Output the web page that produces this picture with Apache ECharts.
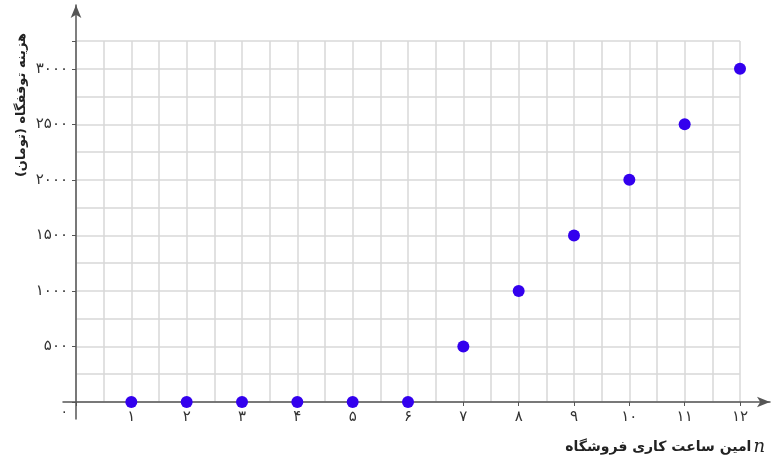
<!DOCTYPE html>
<html>
<head>
<meta charset="utf-8">
<script src="https://cdn.jsdelivr.net/npm/echarts@6/dist/echarts.min.js"></script>
<style>
html,body{margin:0;padding:0;background:#fff;}
#c{width:783px;height:463px;}
</style>
</head>
<body>
<div id="c"></div>
<script>
// Data
const hours = [1, 2, 3, 4, 5, 6, 7, 8, 9, 10, 11, 12];
const costs = [0, 0, 0, 0, 0, 0, 500, 1000, 1500, 2000, 2500, 3000];
const xTickValues = [1, 2, 3, 4, 5, 6, 7, 8, 9, 10, 11, 12];
const yTickValues = [500, 1000, 1500, 2000, 2500, 3000];
const faDigits = ['۰','۱','۲','۳','۴','۵','۶','۷','۸','۹'];
const xAxisTitle = 'امین ساعت کاری فروشگاه';
const yAxisTitle = 'هزینه توقفگاه (تومان)';

function toFa(v) { return String(v).replace(/\d/g, d => faDigits[+d]); }

const FONT = 'DejaVu Sans';
const chart = echarts.init(document.getElementById('c'));
const gridColor = '#d8d8d8';
const axisColor = '#555';

chart.setOption({
  animation: false,
  backgroundColor: '#fff',
  grid: [
    { left: 76, right: 43, top: 41, bottom: 61, containLabel: false, outerBoundsMode: 'none' },
    { left: 63, right: 13, top: 5, bottom: 44, containLabel: false, outerBoundsMode: 'none' }
  ],
  xAxis: [
    {
      type: 'value', gridIndex: 0, min: 0, max: 12, interval: 1,
      axisLine: { show: false },
      axisTick: { show: true, length: 4, inside: false, lineStyle: { color: axisColor, width: 1 } },
      axisLabel: {
        margin: 8, color: '#333', fontFamily: FONT, fontSize: 15,
        formatter: v => xTickValues.includes(v) ? toFa(v) : ''
      },
      splitLine: { show: true, lineStyle: { color: gridColor, width: 1.5 } },
      minorTick: { show: false, splitNumber: 2 },
      minorSplitLine: { show: true, lineStyle: { color: gridColor, width: 1.5 } },
      name: '{t|' + xAxisTitle + '}{n|n}',
      nameLocation: 'end',
      nameGap: 25,
      nameTextStyle: {
        align: 'right', verticalAlign: 'top', padding: [36, 0, 0, 0],
        rich: {
          t: { fontFamily: FONT, fontWeight: 'bold', fontSize: 14, color: '#222' },
          n: { fontFamily: 'DejaVu Serif', fontStyle: 'italic', fontSize: 18, color: '#222', padding: [0, 0, 0, 2] }
        }
      }
    },
    {
      type: 'value', gridIndex: 1, min: -13, max: 694,
      axisLine: { show: true, onZero: true, symbol: ['none', 'arrow'], symbolSize: [8, 13], lineStyle: { color: axisColor, width: 1.5 } },
      axisTick: { show: false }, axisLabel: { show: false }, splitLine: { show: false }
    }
  ],
  yAxis: [
    {
      type: 'value', gridIndex: 0, min: 0, max: 3250, interval: 500,
      axisLine: { show: false },
      axisTick: { show: true, length: 4, lineStyle: { color: axisColor, width: 1 } },
      axisLabel: {
        margin: 8, color: '#333', fontFamily: FONT, fontSize: 15,
        formatter: v => v === 0 ? '{z|' + toFa(0) + '}' : (yTickValues.includes(v) ? toFa(v) : ''),
        rich: { z: { fontFamily: FONT, fontSize: 14, color: '#333', padding: [20, 0, 0, 0] } }
      },
      splitLine: { show: true, lineStyle: { color: gridColor, width: 1.5 } },
      minorTick: { show: false, splitNumber: 2 },
      minorSplitLine: { show: true, lineStyle: { color: gridColor, width: 1.5 } }
    },
    {
      type: 'value', gridIndex: 1, min: -17, max: 397,
      axisLine: { show: true, onZero: true, symbol: ['none', 'arrow'], symbolSize: [8, 13], lineStyle: { color: axisColor, width: 1.5 } },
      axisTick: { show: false }, axisLabel: { show: false }, splitLine: { show: false }
    }
  ],
  graphic: [
    {
      type: 'text', x: 22, y: 105, rotation: Math.PI / 2,
      style: {
        text: yAxisTitle, fontFamily: FONT, fontWeight: 'bold', fontSize: 13,
        fill: '#222', align: 'center', verticalAlign: 'middle'
      }
    }
  ],
  series: [
    {
      type: 'scatter', xAxisIndex: 0, yAxisIndex: 0, z: 10, clip: false,
      symbol: 'circle', symbolSize: 12,
      itemStyle: { color: '#3300ee', opacity: 1 },
      data: hours.map((h, i) => [h, costs[i]])
    }
  ]
});
</script>
</body>
</html>
